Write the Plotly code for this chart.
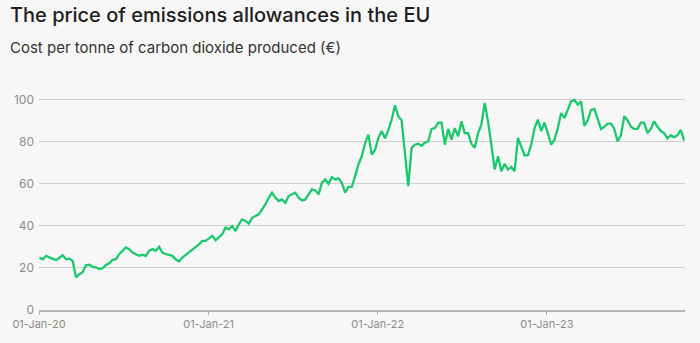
import pandas as pd
import plotly.graph_objects as go

# Weekly samples of the EU emissions allowance price (EUR / tonne CO2)
start_date = "2020-01-02"
end_date = "2023-10-24"
price = [
    24.9, 24.1, 25.7, 24.9, 24.3, 23.7, 24.8, 26.0, 24.1, 24.4,
    23.3, 15.5, 17.0, 18.0, 21.2, 21.5, 20.5, 20.2, 19.5, 19.8,
    21.4, 22.2, 23.8, 24.1, 26.5, 28.1, 29.7, 28.9, 27.3, 26.5,
    25.7, 26.2, 25.7, 28.1, 28.9, 28.1, 30.0, 27.3, 26.5, 26.2,
    25.7, 24.1, 23.0, 24.9, 26.2, 27.3, 28.4, 29.7, 31.2, 32.8,
    32.8, 34.0, 35.2, 33.1, 34.4, 36.0, 39.1, 38.3, 39.9, 37.5,
    40.7, 43.0, 42.3, 41.0, 43.8, 44.6, 45.4, 47.8, 50.2, 53.3,
    55.7, 53.3, 51.7, 52.5, 50.9, 54.1, 54.9, 55.7, 53.3, 52.0,
    52.5, 54.9, 57.3, 56.8, 54.9, 60.4, 62.0, 59.9, 63.1, 62.0,
    62.5, 60.4, 55.7, 58.5, 58.5, 63.6, 69.1, 73.0, 79.3, 83.3,
    73.8, 76.0, 81.7, 85.0, 81.5, 85.5, 90.4, 97.2, 92.0, 90.0,
    75.0, 58.8, 77.0, 78.5, 79.0, 78.0, 79.5, 80.1, 86.0, 86.4,
    89.0, 89.0, 78.5, 86.0, 80.9, 86.4, 82.5, 89.6, 84.0, 84.0,
    79.0, 77.0, 83.9, 88.0, 98.3, 89.6, 78.5, 66.7, 73.0, 65.9,
    69.4, 66.7, 68.0, 65.9, 81.7, 77.0, 73.4, 73.5, 78.5, 86.4,
    90.4, 85.0, 89.0, 84.0, 78.5, 80.9, 86.4, 93.5, 91.2, 95.1,
    99.1, 99.8, 97.5, 99.1, 87.5, 90.0, 95.0, 95.5, 91.0, 86.0,
    87.0, 88.5, 88.5, 86.0, 80.0, 83.0, 92.0, 90.0, 87.0, 86.0,
    86.0, 89.0, 89.0, 84.0, 86.0, 89.6, 87.0, 85.0, 84.0, 81.5,
    83.0, 82.0, 83.0, 85.6, 80.5,
]
dates = pd.date_range(start_date, end_date, periods=len(price))

x_tick_vals = ["2020-01-01", "2021-01-01", "2022-01-01", "2023-01-01"]
x_tick_text = ["01-Jan-20", "01-Jan-21", "01-Jan-22", "01-Jan-23"]
y_tick_vals = [0, 20, 40, 60, 80, 100]

title_text = "The price of emissions allowances in the EU"
subtitle_text = "Cost per tonne of carbon dioxide produced (€)"

BG = "#f7f7f7"
GREEN = "#1cc86c"
GRID = "#cfcfcf"
TICK = "#8c8c8c"
FONT = "Inter, Lato, sans-serif"

fig = go.Figure()
fig.add_trace(go.Scatter(
    x=dates, y=price, mode="lines",
    line=dict(color=GREEN, width=2.3),
    hoverinfo="x+y", showlegend=False,
))

fig.update_layout(
    width=700, height=343,
    paper_bgcolor=BG, plot_bgcolor=BG,
    margin=dict(l=36, r=15, t=91, b=32),
    font=dict(family=FONT, color=TICK, size=11),
    xaxis=dict(
        range=["2020-01-01", "2023-10-26"],
        tickvals=x_tick_vals, ticktext=x_tick_text,
        showgrid=False, zeroline=False,
        showline=True, linecolor="#b5b5b5", linewidth=2,
        ticks="outside", ticklen=3, tickcolor="#b5b5b5", tickwidth=1,
        tickfont=dict(size=11, color=TICK),
    ),
    yaxis=dict(
        range=[0, 104],
        tickvals=y_tick_vals,
        showgrid=True, gridcolor=GRID, gridwidth=1.2,
        zeroline=False, showline=False,
        ticks="", ticklabelstandoff=4,
        tickfont=dict(size=12, color=TICK),
    ),
    annotations=[
        dict(text=title_text, xref="paper", yref="paper",
             x=-31/649, y=1 + 90/220,
             xanchor="left", yanchor="top", showarrow=False,
             font=dict(size=20, color="#1e1e1e", family=FONT, weight=500)),
        dict(text=subtitle_text, xref="paper", yref="paper",
             x=-31/649, y=1 + 55/220,
             xanchor="left", yanchor="top", showarrow=False,
             font=dict(size=15, color="#333333", family=FONT)),
    ],
)

fig.write_html("out.html")
